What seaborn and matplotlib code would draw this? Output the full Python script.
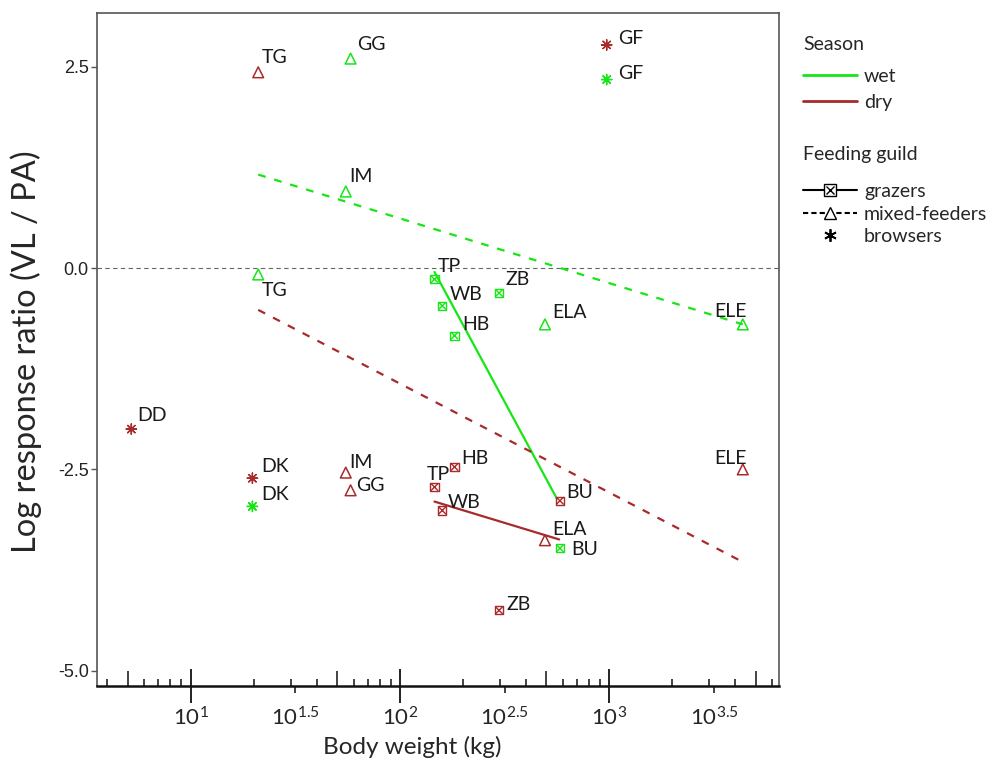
import numpy as np
import pandas as pd
import seaborn as sns
import matplotlib.pyplot as plt
from matplotlib.lines import Line2D
from matplotlib.legend_handler import HandlerTuple
from matplotlib.ticker import FixedLocator, NullFormatter

# ---- values ----
wet_species = ['DK', 'TG', 'IM', 'GG', 'TP', 'WB', 'HB', 'ZB', 'ELA', 'BU', 'GF', 'ELE']
wet_guild = ['browsers', 'mixed-feeders', 'mixed-feeders', 'mixed-feeders', 'grazers', 'grazers',
             'grazers', 'grazers', 'mixed-feeders', 'grazers', 'browsers', 'mixed-feeders']
wet_mass = [19.7, 21.0, 55.0, 58.0, 146, 159, 182, 297, 492, 580, 970, 4335]
wet_lrr = [-2.96, -0.08, 0.95, 2.60, -0.14, -0.47, -0.84, -0.31, -0.70, -3.48, 2.34, -0.70]

dry_species = ['DD', 'DK', 'TG', 'IM', 'GG', 'TP', 'WB', 'HB', 'ZB', 'ELA', 'BU', 'GF', 'ELE']
dry_guild = ['browsers', 'browsers', 'mixed-feeders', 'mixed-feeders', 'mixed-feeders', 'grazers',
             'grazers', 'grazers', 'grazers', 'mixed-feeders', 'grazers', 'browsers', 'mixed-feeders']
dry_mass = [5.2, 19.7, 21.0, 55.0, 58.0, 146, 159, 182, 297, 492, 580, 970, 4335]
dry_lrr = [-2.00, -2.61, 2.43, -2.54, -2.76, -2.72, -3.01, -2.47, -4.25, -3.38, -2.89, 2.77, -2.50]

# fitted lines (start / end of each regression)
fit_season = ['wet', 'dry', 'wet', 'dry']
fit_guild = ['mixed-feeders', 'mixed-feeders', 'grazers', 'grazers']
fit_mass_start = [21.0, 21.0, 146, 146]
fit_mass_end = [4335, 4335, 560, 575]
fit_lrr_start = [1.16, -0.52, -0.05, -2.90]
fit_lrr_end = [-0.70, -3.65, -2.86, -3.37]

xtick_exp = [1, 1.5, 2, 2.5, 3, 3.5]
ytick_vals = [2.5, 0.0, -2.5, -5.0]
ytick_labels = ['2.5', '0.0', '-2.5', '-5.0']

# label placement (pixels from the point: dx, dy down, alignment)
label_pos = {
    ('wet', 'DK'): (8.7, -13, 'left'), ('wet', 'TG'): (4, 15, 'left'),
    ('wet', 'IM'): (3.3, -17, 'left'), ('wet', 'GG'): (6.7, -15.7, 'left'),
    ('wet', 'TP'): (3, -14.5, 'left'), ('wet', 'WB'): (7, -13, 'left'),
    ('wet', 'HB'): (7.4, -13, 'left'), ('wet', 'ZB'): (6.7, -15, 'left'),
    ('wet', 'ELA'): (7.3, -13.3, 'left'), ('wet', 'BU'): (11.7, 0, 'left'),
    ('wet', 'GF'): (11.6, -7.6, 'left'), ('wet', 'ELE'): (4, -14.3, 'right'),
    ('dry', 'DD'): (6, -14.8, 'left'), ('dry', 'DK'): (8.7, -13, 'left'),
    ('dry', 'TG'): (3.4, -16.5, 'left'), ('dry', 'IM'): (3.6, -12, 'left'),
    ('dry', 'GG'): (6, -6.3, 'left'), ('dry', 'TP'): (-7.6, -13.7, 'left'),
    ('dry', 'WB'): (5, -9.7, 'left'), ('dry', 'HB'): (6.3, -10, 'left'),
    ('dry', 'ZB'): (7, -7.3, 'left'), ('dry', 'ELA'): (7.7, -12, 'left'),
    ('dry', 'BU'): (6.7, -10, 'left'), ('dry', 'GF'): (11.6, -7.5, 'left'),
    ('dry', 'ELE'): (4, -12.7, 'right'),
}

points = pd.concat([
    pd.DataFrame({'species': wet_species, 'season': 'wet', 'guild': wet_guild,
                  'mass': wet_mass, 'lrr': wet_lrr}),
    pd.DataFrame({'species': dry_species, 'season': 'dry', 'guild': dry_guild,
                  'mass': dry_mass, 'lrr': dry_lrr}),
], ignore_index=True)

fits = pd.DataFrame({
    'season': fit_season * 2,
    'guild': fit_guild * 2,
    'mass': fit_mass_start + fit_mass_end,
    'lrr': fit_lrr_start + fit_lrr_end,
    'line': list(range(4)) * 2,
})

GREEN = '#16e616'
DRED = '#a82a2a'
palette = {'wet': GREEN, 'dry': DRED}

sns.set_style('white')
plt.rcParams['font.family'] = ['Lato', 'DejaVu Sans']
plt.rcParams['mathtext.fontset'] = 'custom'
plt.rcParams['mathtext.rm'] = 'Lato'
plt.rcParams['mathtext.it'] = 'Lato'

fig = plt.figure(figsize=(9.97, 7.65), dpi=100)
ax = fig.add_axes([97 / 997, 1 - 685.7 / 765, (779 - 97) / 997, (685.7 - 12.7) / 765])
ax.set_xscale('log')

ax.axhline(0, color='#666666', lw=0.8, ls=(0, (4, 3)), zorder=1)

sns.lineplot(data=fits, x='mass', y='lrr', hue='season', style='guild', units='line',
             estimator=None, palette=palette,
             dashes={'grazers': '', 'mixed-feeders': (3.5, 4)},
             linewidth=1.6, legend=False, ax=ax, zorder=2)

# grazers: square with a cross
graz = points[points.guild == 'grazers']
for mk, size in (('s', 36), ('x', 28)):
    sns.scatterplot(data=graz, x='mass', y='lrr', hue='season', palette=palette,
                    marker=mk, s=size, linewidth=1, legend=False, ax=ax, zorder=3)
    coll = ax.collections[-1]
    coll.set_edgecolors(coll.get_facecolors())
    coll.set_facecolors('none')

mixed = points[points.guild == 'mixed-feeders']
sns.scatterplot(data=mixed, x='mass', y='lrr', hue='season', palette=palette,
                marker='^', s=60, linewidth=1.1, legend=False, ax=ax, zorder=3)
coll = ax.collections[-1]
coll.set_edgecolors(coll.get_facecolors())
coll.set_facecolors('none')

brow = points[points.guild == 'browsers']
sns.scatterplot(data=brow, x='mass', y='lrr', hue='season', palette=palette,
                marker=(8, 2, 0), s=55, linewidth=1, legend=False, ax=ax, zorder=3)
coll = ax.collections[-1]
coll.set_edgecolors(coll.get_facecolors())

for _, r in points.iterrows():
    dx, dy, ha = label_pos[(r.season, r.species)]
    ax.annotate(r.species, (r.mass, r.lrr), xytext=(dx, -(dy + 7)),
                textcoords='offset pixels', ha=ha, va='baseline',
                fontsize=14, color='#1a1a1a')

ax.set_xlim(10 ** 0.552, 10 ** 3.81)
ax.set_ylim(-5.186, 3.17)

# y axis
ax.set_yticks(ytick_vals)
ax.set_yticklabels(ytick_labels, family=['Liberation Sans'], fontsize=13, color='#222222')
ax.tick_params(axis='y', left=True, direction='out', length=4, width=1, color='#555555', pad=2)

# x axis: labels at half decades, small ticks inside, long ticks at decades / 5x
major_pos = [10 ** e for e in xtick_exp]
ax.set_xticks(major_pos)
ax.set_xticklabels([r'$\mathregular{10^{%g}}$' % e for e in xtick_exp], fontsize=16)
minor = [m * 10 ** d for d in range(0, 4) for m in (2, 3, 4, 5, 6, 7, 8, 9)]
ax.xaxis.set_minor_locator(FixedLocator(minor))
ax.xaxis.set_minor_formatter(NullFormatter())
ax.tick_params(axis='x', which='major', bottom=True, direction='out', length=5, width=1.2,
               color='#222222', pad=10)
ax.tick_params(axis='x', which='minor', bottom=True, direction='in', length=5, width=1.2,
               color='#222222')
for pos, tick in zip(major_pos, ax.xaxis.get_major_ticks()):
    if float(np.log10(pos)).is_integer():
        tick.tick1line.set_marker('|')
        tick.tick1line.set_markersize(24)
        tick.tick1line.set_markeredgewidth(1.4)
for pos, tick in zip(minor, ax.xaxis.get_minor_ticks()):
    if round(pos / 10 ** np.floor(np.log10(pos))) == 5:
        tick.tick1line.set_markersize(11)

for side in ('left', 'top', 'right'):
    ax.spines[side].set_color('#555555')
    ax.spines[side].set_linewidth(1.2)
ax.spines['bottom'].set_linewidth(1.8)
ax.spines['bottom'].set_color('#111111')

ax.set_xlabel('Body weight (kg)', fontsize=17.5)
ax.xaxis.set_label_coords(0.462, -0.074)
ax.set_ylabel('Log response ratio (VL / PA)', fontsize=23.5)
ax.yaxis.set_label_coords(-0.08, 0.497)

# legends
season_handles = [Line2D([], [], color=GREEN, lw=2), Line2D([], [], color=DRED, lw=2)]
leg1 = fig.legend(season_handles, ['wet', 'dry'], title='Season', loc='upper left',
                  bbox_to_anchor=(803 / 997, 1 - 36 / 765), frameon=False, fontsize=14,
                  title_fontsize=14, handlelength=2.78, handletextpad=0.36, labelspacing=0.46,
                  borderpad=0, borderaxespad=0, alignment='left')
leg1._legend_box.sep = 10.5

g_sq = Line2D([], [], color='black', lw=1.5, marker='s', ms=8, mfc='white', mec='black')
g_x = Line2D([], [], color='none', marker='x', ms=6, mec='black', mew=1)
m_tri = Line2D([], [], color='black', lw=1.5, ls=(0, (2.5, 1.5)), marker='^', ms=8,
               mfc='white', mec='black')
b_ast = Line2D([], [], color='black', ls='none', marker=(6, 2, 0), ms=9, mew=1.3)
leg2 = fig.legend([(g_sq, g_x), m_tri, b_ast], ['grazers', 'mixed-feeders', 'browsers'],
                  title='Feeding guild', loc='upper left',
                  bbox_to_anchor=(803 / 997, 1 - 146 / 765), frameon=False, fontsize=14,
                  title_fontsize=14, handlelength=2.78, handletextpad=0.36, labelspacing=0.28,
                  borderpad=0, borderaxespad=0, alignment='left',
                  handler_map={tuple: HandlerTuple(ndivide=1)})
leg2._legend_box.sep = 14.5

fig.savefig('out.png', dpi=100)
